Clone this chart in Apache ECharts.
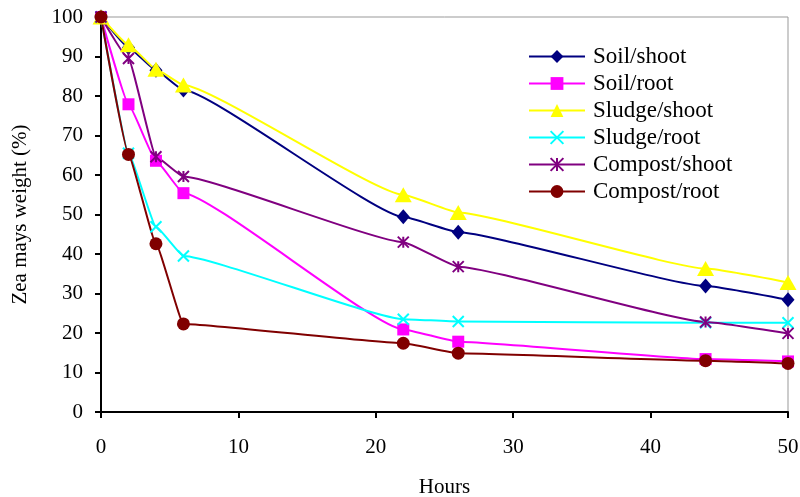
<!DOCTYPE html>
<html>
<head>
<meta charset="utf-8">
<script src="https://cdn.jsdelivr.net/npm/echarts@6/dist/echarts.min.js"></script>
<style>
html,body{margin:0;padding:0;background:#fff;}
#chart{width:800px;height:497px;}
</style>
</head>
<body>
<div id="chart"></div>
<script>
// Data
var hours = [0, 2, 4, 6, 22, 26, 44, 50];
var seriesNames = ['Soil/shoot', 'Soil/root', 'Sludge/shoot', 'Sludge/root', 'Compost/shoot', 'Compost/root'];
var soilShoot    = [100, 92.3, 86.5, 81.5, 49.4, 45.5, 31.9, 28.4];
var soilRoot     = [100, 77.9, 63.6, 55.4, 20.9, 17.8, 13.4, 12.8];
var sludgeShoot  = [100, 93.0, 86.8, 82.8, 55.0, 50.5, 36.3, 32.8];
var sludgeRoot   = [100, 65.5, 46.9, 39.5, 23.5, 22.9, 22.6, 22.6];
var compostShoot = [100, 89.5, 64.6, 59.6, 43.0, 36.8, 22.8, 19.9];
var compostRoot  = [100, 65.2, 42.6, 22.3, 17.4, 14.9, 13.0, 12.3];
var xTicks = [0, 10, 20, 30, 40, 50];
var yTicks = [0, 10, 20, 30, 40, 50, 60, 70, 80, 90, 100];

var values = [soilShoot, soilRoot, sludgeShoot, sludgeRoot, compostShoot, compostRoot];
var colors = ['#000080', '#FF00FF', '#FFFF00', '#00FFFF', '#800080', '#800000'];
var symbols = [
  'diamond',
  'rect',
  'triangle',
  'path://M0,0 L10,10 M10,0 L0,10',
  'path://M0,0 L10,10 M10,0 L0,10 M5,0 L5,10',
  'circle'
];
var sizes = [[13, 15], 12, [17, 15], 11, 11, 13];
var strokeSym = [false, false, false, true, true, false];

function pairs(v) { return hours.map(function (h, i) { return [h, v[i]]; }); }

var series = seriesNames.map(function (name, k) {
  return {
    name: name,
    type: 'line',
    data: pairs(values[k]),
    smooth: 0.12,
    smoothMonotone: 'x',
    symbol: symbols[k],
    symbolSize: sizes[k],
    showAllSymbol: true,
    lineStyle: { color: colors[k], width: 2 },
    itemStyle: strokeSym[k]
      ? { color: 'rgba(0,0,0,0)', borderColor: colors[k], borderWidth: 2 }
      : { color: colors[k], borderWidth: 0 },
    emphasis: { disabled: true },
    animation: false
  };
});

var font = 'Liberation Serif, Times New Roman, serif';
var chart = echarts.init(document.getElementById('chart'), null, { renderer: 'canvas' });
chart.setOption({
  animation: false,
  backgroundColor: '#fff',
  color: colors,
  grid: {
    left: 101, right: 12, top: 17, bottom: 85,
    outerBoundsMode: 'none', containLabel: false,
    show: true, borderColor: '#999999', borderWidth: 1, backgroundColor: 'transparent'
  },
  legend: {
    orient: 'vertical',
    left: 523, top: 40,
    itemWidth: 56, itemHeight: 16,
    itemGap: 4,
    textStyle: { fontFamily: font, fontSize: 23, color: '#000', lineHeight: 23, padding: [0, 0, 0, 3] },
    data: seriesNames
  },
  xAxis: {
    type: 'value',
    min: xTicks[0], max: xTicks[xTicks.length - 1], interval: 10,
    name: 'Hours', nameLocation: 'middle', nameGap: 65,
    nameTextStyle: { fontFamily: font, fontSize: 21, color: '#000' },
    axisLine: { lineStyle: { color: '#000', width: 2 } },
    axisTick: { show: true, length: 6, inside: false, lineStyle: { color: '#000', width: 2 } },
    axisLabel: { margin: 25, fontFamily: font, fontSize: 21, color: '#000' },
    splitLine: { show: false }
  },
  yAxis: {
    type: 'value',
    min: yTicks[0], max: yTicks[yTicks.length - 1], interval: 10,
    name: 'Zea mays weight (%)', nameLocation: 'middle', nameGap: 70,
    nameTextStyle: { fontFamily: font, fontSize: 21, color: '#000' },
    axisLine: { lineStyle: { color: '#000', width: 2 } },
    axisTick: { show: true, length: 6, inside: false, lineStyle: { color: '#000', width: 2 } },
    axisLabel: { margin: 18, fontFamily: font, fontSize: 21, color: '#000' },
    splitLine: { show: false }
  },
  series: series
});
</script>
</body>
</html>
